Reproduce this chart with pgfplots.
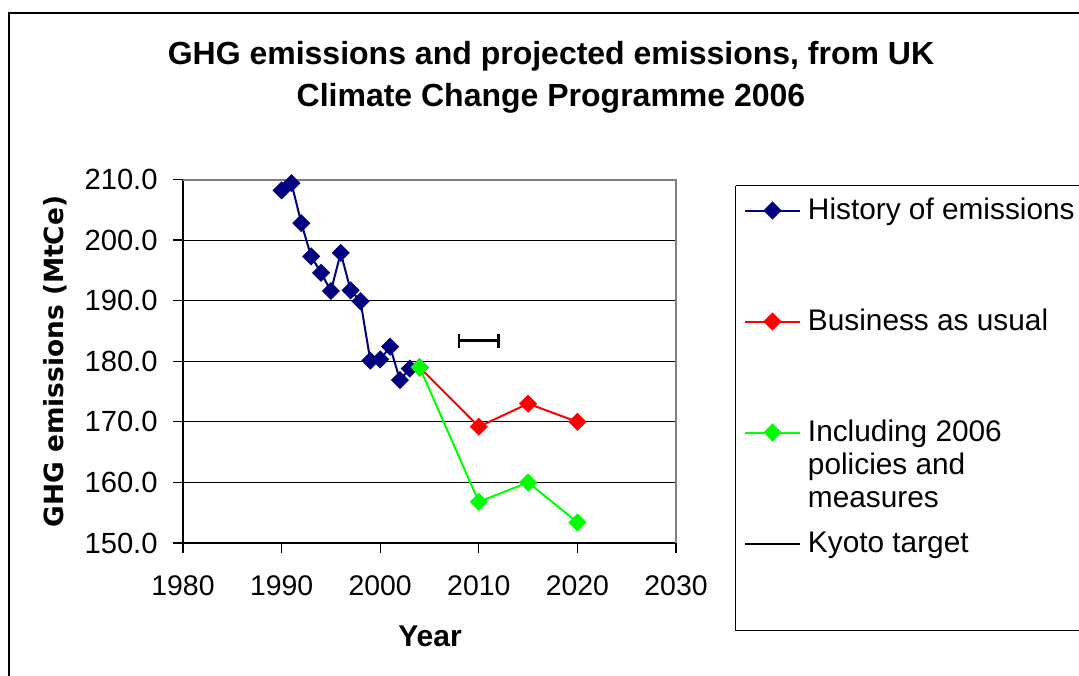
\documentclass[border=0pt]{standalone}
\usepackage{pgfplots}
\pgfplotsset{compat=1.18}
\usepackage{fontspec}
\setmainfont{Liberation Sans}
\newfontfamily\ylfont{DejaVu Sans}
\definecolor{navyb}{RGB}{0,0,128}
\definecolor{grn}{RGB}{0,255,0}
\definecolor{axgray}{RGB}{128,128,128}
\begin{document}
\begin{tikzpicture}
\fill[white] (0,0) rectangle (539.5pt,337.5pt);
\draw[line width=0.8pt] (4.35pt,-2pt) -- (4.35pt,331pt) -- (545pt,331pt);
\draw[line width=0.5pt] (367.85pt,244.5pt) -- (367.85pt,22.5pt) -- (545pt,22.5pt);
\draw[line width=0.5pt] (367.85pt,244.5pt) -- (545pt,244.5pt);
\begin{axis}[
  at={(91.5pt,66pt)}, anchor=south west,
  width=246.5pt, height=181.75pt, scale only axis,
  xmin=1980, xmax=2030, ymin=150, ymax=210,
  xtick={1980,1990,...,2030}, ytick={150,160,...,210},
  axis x line*=bottom, axis y line*=left,
  axis line style={black, line width=0.6pt, -},
  tick align=outside, major tick length=5pt,
  tick style={black, line width=0.6pt},
  ymajorgrids, grid style={black, line width=0.5pt},
  /pgf/number format/assume math mode=true,
  x tick label style={/pgf/number format/1000 sep={}, font=\fontsize{14.2}{16}\selectfont, inner sep=0pt, yshift=-11pt},
  y tick label style={/pgf/number format/fixed, /pgf/number format/fixed zerofill, /pgf/number format/precision=1, font=\fontsize{14.6}{16}\selectfont, inner sep=0pt, xshift=-7.5pt},
  clip=false,
  legend style={at={(1.1379,0.9482)}, anchor=north west, draw=none, fill=none, inner sep=0pt, outer sep=0pt, column sep=3.5pt, row sep=43.33pt, font=\fontsize{14.9}{16}\selectfont, nodes={inner sep=0pt}},
  legend image code/.code={\draw[mark repeat=2,mark phase=2,#1] plot coordinates {(0pt,0pt) (13.75pt,0pt) (27.5pt,0pt)};},
  legend cell align=left,
]
\draw[axgray, line width=1pt] (rel axis cs:0,1) -- (rel axis cs:1,1) -- (rel axis cs:1,0);
\addplot[navyb, line width=1pt, mark=square*, mark size=2.7pt, mark options={rotate=45, solid, fill=navyb}] coordinates {
(1990,208.2) (1991,209.4) (1992,202.8) (1993,197.3) (1994,194.6) (1995,191.6) (1996,197.9) (1997,191.7) (1998,189.9) (1999,180.1) (2000,180.3) (2001,182.4) (2002,176.9) (2003,178.8) (2004,179.0)};
\addlegendentry{\smash{History of emissions}\rule{0pt}{10.67pt}}
\addplot[red, line width=1pt, mark=square*, mark size=2.7pt, mark options={rotate=45, solid, fill=red}] coordinates {
(2004,179.0) (2010,169.2) (2015,173.0) (2020,170.0)};
\addlegendentry{\smash{Business as usual}\rule{0pt}{10.67pt}}
\addplot[grn, line width=1pt, mark=square*, mark size=2.7pt, mark options={rotate=45, solid, fill=grn}] coordinates {
(2004,179.0) (2010,156.8) (2015,160.0) (2020,153.4)};
\addlegendentry{\smash{\parbox[t]{120pt}{\raggedright\baselineskip=16.5pt Including 2006\\policies and\\measures}}\rule{0pt}{10.67pt}}
\addplot[black, line width=1pt, mark=none, error bars/.cd, x dir=both, x explicit, error mark=|, error bar style={line width=1.2pt, black}, error mark options={line width=1.2pt, mark size=3.5pt, black}] coordinates {
(2010,183.4) +- (2,0)};
\addlegendentry{\smash{Kyoto target}\rule{0pt}{10.67pt}}
\end{axis}
\node[anchor=base, font=\fontsize{16}{19}\bfseries] at (275.5pt,305.25pt) {GHG emissions and projected emissions, from UK};
\node[anchor=base, font=\fontsize{16}{19}\bfseries] at (275.5pt,284.25pt) {Climate Change Programme 2006};
\node[rotate=90, font=\ylfont\fontsize{13.2}{15}\bfseries] at (27.5pt,156.75pt) {GHG emissions (MtCe)};
\node[font=\fontsize{15}{18}\bfseries] at (215pt,19.5pt) {Year};
\pgfresetboundingbox
\path[use as bounding box] (0,0) rectangle (539.5pt,337.5pt);
\end{tikzpicture}
\end{document}
